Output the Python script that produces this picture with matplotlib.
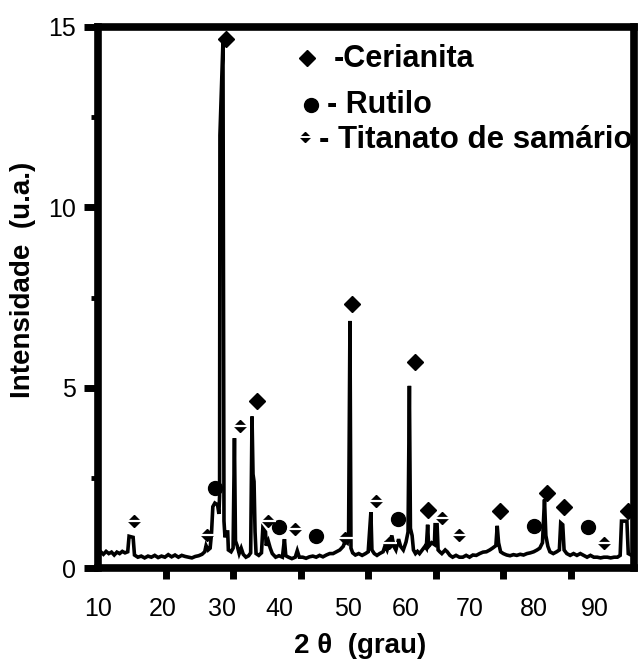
import matplotlib
matplotlib.use("Agg")
import matplotlib.pyplot as plt
from matplotlib.ticker import FixedLocator, FixedFormatter

plt.rcParams['font.family'] = ['Liberation Sans', 'DejaVu Sans']

# Diffractogram (2θ in degrees, intensity in arbitrary units)
two_theta = [
    10.0, 10.4, 10.8, 11.2, 11.6, 12.0, 12.4, 12.8, 13.2, 13.6, 14.0, 14.4,
    14.6, 15.2, 15.4, 15.9, 16.4, 16.9, 17.4, 17.9, 18.4, 18.9, 19.4, 19.9,
    20.4, 20.9, 21.4, 21.9, 22.4, 22.9, 23.4, 23.9, 24.4, 24.9, 25.4, 25.8,
    26.0, 26.3, 26.6, 26.8, 27.0, 27.3, 27.7, 27.9, 28.0, 28.05, 28.5, 28.65,
    28.8, 28.9, 29.2, 29.3, 29.7, 30.0, 30.2, 30.35, 30.6, 30.9, 31.2, 31.5,
    31.9, 32.3, 32.6, 32.8, 32.95, 33.1, 33.25, 33.4, 33.8, 34.2, 34.4, 34.8,
    34.9, 35.2, 35.5, 35.8, 36.3, 36.8, 37.3, 37.6, 37.8, 38.2, 38.7, 39.2,
    39.5, 39.8, 40.3, 40.8, 41.3, 41.8, 42.3, 42.8, 43.3, 43.8, 44.3, 44.8,
    45.3, 45.8, 46.3, 46.6, 46.9, 47.1, 47.3, 47.45, 47.7, 48.1, 48.6, 49.1,
    49.6, 50.0, 50.4, 50.55, 50.9, 51.3, 51.7, 52.2, 52.5, 52.8, 53.1, 53.5,
    53.8, 54.1, 54.5, 54.8, 55.2, 55.6, 55.9, 56.1, 56.25, 56.5, 56.7, 57.0,
    57.3, 57.6, 58.0, 58.4, 58.6, 58.8, 58.95, 59.4, 59.8, 59.9, 60.2, 60.35,
    60.6, 60.9, 61.4, 61.7, 62.1, 62.5, 63.0, 63.5, 64.0, 64.5, 65.0, 65.5,
    66.0, 66.5, 67.0, 67.5, 68.0, 68.4, 68.9, 69.1, 69.3, 69.6, 70.0, 70.5,
    71.0, 71.5, 72.0, 72.5, 73.0, 73.5, 74.0, 74.5, 75.0, 75.4, 75.8, 76.1,
    76.3, 76.6, 76.9, 77.4, 77.9, 78.3, 78.5, 78.8, 79.0, 79.4, 79.9, 80.4,
    80.9, 81.4, 81.9, 82.4, 82.9, 83.4, 83.9, 84.4, 84.9, 85.4, 85.9, 86.4,
    86.9, 87.3, 87.5, 88.3, 88.5, 89.0, 89.35,
]
intensity = [
    0.42, 0.45, 0.38, 0.46, 0.40, 0.44, 0.36, 0.44, 0.40, 0.46, 0.42, 0.45,
    0.88, 0.85, 0.36, 0.30, 0.33, 0.28, 0.33, 0.30, 0.35, 0.29, 0.33, 0.30,
    0.37, 0.31, 0.36, 0.30, 0.35, 0.32, 0.30, 0.28, 0.32, 0.34, 0.38, 0.45,
    0.62, 0.50, 0.55, 0.95, 1.70, 1.80, 1.75, 1.50, 2.00, 12.0, 14.6, 1.30,
    0.85, 1.00, 1.00, 0.50, 0.45, 0.55, 3.60, 0.75, 0.62, 0.40, 0.55, 0.38,
    0.30, 0.34, 0.42, 4.20, 2.60, 2.40, 1.00, 0.40, 0.35, 0.42, 1.10, 1.00,
    0.62, 0.75, 0.55, 0.40, 0.30, 0.34, 0.30, 0.80, 0.34, 0.30, 0.26, 0.30,
    0.48, 0.30, 0.30, 0.27, 0.31, 0.33, 0.30, 0.35, 0.31, 0.36, 0.40, 0.40,
    0.45, 0.50, 0.60, 0.75, 0.70, 1.00, 6.85, 0.55, 0.42, 0.36, 0.40, 0.35,
    0.40, 0.45, 1.55, 0.50, 0.40, 0.35, 0.40, 0.45, 0.62, 0.50, 0.70, 0.90,
    0.60, 0.50, 0.80, 0.60, 0.50, 0.72, 1.00, 5.05, 1.10, 0.90, 0.50, 0.40,
    0.46, 0.40, 0.50, 0.60, 0.55, 1.20, 0.60, 0.70, 0.65, 1.20, 1.20, 0.50,
    0.45, 0.40, 0.50, 0.45, 0.35, 0.30, 0.35, 0.30, 0.30, 0.35, 0.30, 0.36,
    0.35, 0.40, 0.44, 0.45, 0.50, 0.55, 0.62, 1.17, 0.70, 0.45, 0.40, 0.36,
    0.34, 0.37, 0.35, 0.38, 0.36, 0.40, 0.42, 0.45, 0.50, 0.55, 0.70, 1.90,
    0.90, 0.60, 0.45, 0.40, 0.45, 0.50, 1.25, 1.20, 0.50, 0.40, 0.35, 0.40,
    0.35, 0.40, 0.35, 0.30, 0.35, 0.30, 0.30, 0.28, 0.30, 0.30, 0.28, 0.30,
    0.30, 0.35, 1.30, 1.30, 0.40, 0.35, 0.35,
]

# Phase identification marks
cerianita_x = [28.9, 33.5, 47.6, 56.9, 58.9, 69.5, 76.5, 79.0, 88.4]
cerianita_y = [14.66, 4.62, 7.33, 5.70, 1.60, 1.58, 2.09, 1.70, 1.58]
rutilo_x = [27.3, 36.8, 42.2, 54.4, 74.6, 82.6]
rutilo_y = [2.23, 1.15, 0.89, 1.35, 1.17, 1.15]
titanato_x = [15.4, 26.1, 31.0, 35.1, 39.2, 46.5, 51.1, 53.1, 61.0, 63.5, 84.9]
titanato_y = [1.31, 0.92, 3.93, 1.30, 1.09, 0.84, 1.86, 0.70, 1.40, 0.92, 0.70]

legend_labels = ['-Cerianita', '- Rutilo', '- Titanato de samário']

# Axis ticks
x_tick_marks = [10, 20, 30, 40, 50, 60, 70, 80]
x_label_at = [10.0, 19.6, 28.3, 36.9, 47.0, 55.6, 65.0, 74.5, 83.5]
x_labels = ['10', '20', '30', '40', '50', '60', '70', '80', '90']
y_major = [0, 5, 10, 15]
y_minor = [2.5, 7.5, 12.5]

W, H = 639, 664
fig = plt.figure(figsize=(W / 100, H / 100), dpi=100, facecolor='white')
ax = fig.add_axes([98 / W, 96 / H, (634 - 98) / W, (637 - 96) / H])

ax.plot(two_theta, intensity, color='black', lw=2.6, solid_joinstyle='miter',
        zorder=2)

ax.plot(cerianita_x, cerianita_y, ls='none', marker='D', ms=8, color='black',
        clip_on=False, zorder=3)
ax.plot(rutilo_x, rutilo_y, ls='none', marker='o', ms=10, color='black',
        clip_on=False, zorder=3)
ax.plot(titanato_x, titanato_y, ls='none', marker='D', ms=6.5, color='black',
        clip_on=False, zorder=3)
ax.plot(titanato_x, titanato_y, ls='none', marker='_', ms=11, mew=1.6,
        color='white', clip_on=False, zorder=3.1)

ax.set_xlim(10, 89.35)
ax.set_ylim(0, 15)

ax.xaxis.set_major_locator(FixedLocator(x_label_at))
ax.xaxis.set_major_formatter(FixedFormatter(x_labels))
ax.xaxis.set_minor_locator(FixedLocator(x_tick_marks))
ax.yaxis.set_major_locator(FixedLocator(y_major))
ax.yaxis.set_minor_locator(FixedLocator(y_minor))

ax.tick_params(axis='x', which='major', length=0, pad=21, labelsize=18)
ax.tick_params(axis='x', which='minor', length=8, width=5, direction='out',
               color='black')
ax.tick_params(axis='y', which='major', length=10, width=5, pad=6,
               labelsize=18, direction='out')
ax.tick_params(axis='y', which='minor', length=5, width=3.5, direction='out')

for sp in ax.spines.values():
    sp.set_linewidth(5.5)
    sp.set_color('black')

# Phase key in the upper right
def fx(px):
    return px / W

def fy(py):
    return (H - py) / H

key_marks = [(307, 58, 'D', 8, 'black'), (311, 105, 'o', 10, 'black'),
             (305, 137, 'D', 5, 'black')]
for px, py, m, s, c in key_marks:
    ax.plot([fx(px)], [fy(py)], marker=m, ms=s, color=c, ls='none',
            transform=fig.transFigure, clip_on=False, zorder=3)
ax.plot([fx(305)], [fy(137)], marker='_', ms=9, mew=1.4, color='white',
        ls='none', transform=fig.transFigure, clip_on=False, zorder=3.1)

key_text = [(334, 67, 22), (327, 113, 22), (319, 148, 22.5)]
for (px, py, fs), lab in zip(key_text, legend_labels):
    ax.text(fx(px), fy(py), lab, transform=fig.transFigure, ha='left',
            va='baseline', fontsize=fs, fontweight='bold', zorder=1,
            clip_on=False)

fig.text(fx(23), fy(280), 'Intensidade  (u.a.)', rotation=90, ha='center',
         va='center', fontsize=20, fontweight='bold')
fig.text(fx(360), fy(653), '2 θ  (grau)', ha='center', va='baseline',
         fontsize=20, fontweight='bold')

fig.savefig('out.png', dpi=100, facecolor='white')
